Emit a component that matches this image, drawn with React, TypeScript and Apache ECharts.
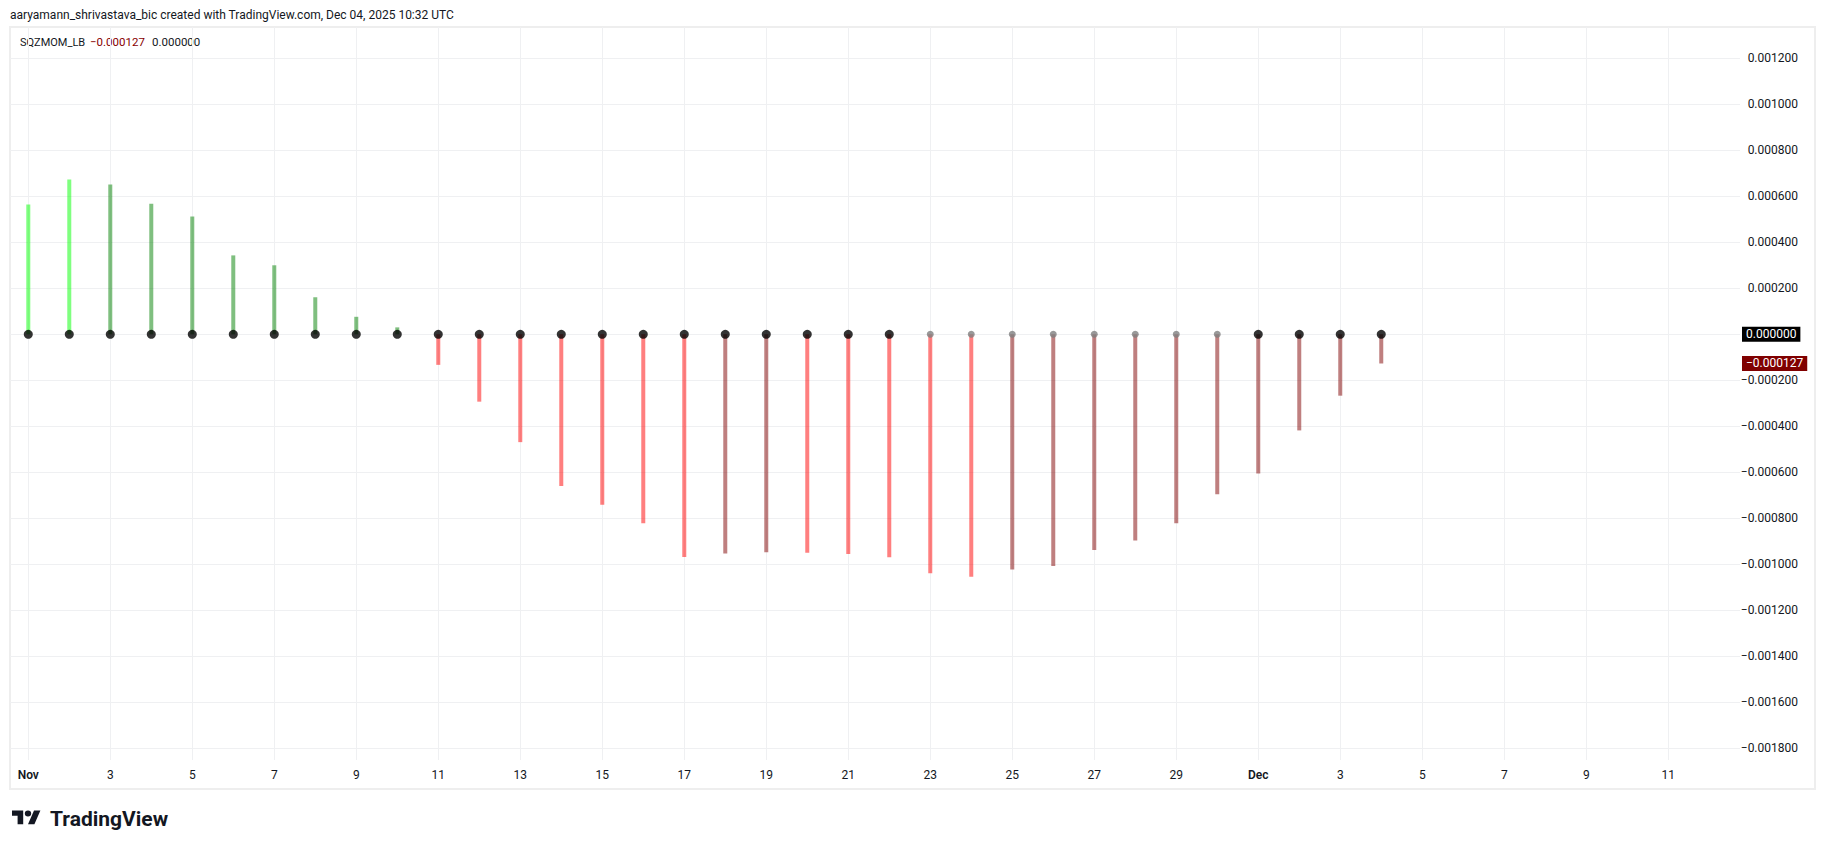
import React, { useEffect, useRef } from "react";
import * as echarts from "echarts";

// Daily SQZMOM_LB values, Nov 1 – Dec 4, 2025
const dates = [
  "Nov 1", "Nov 2", "Nov 3", "Nov 4", "Nov 5", "Nov 6", "Nov 7", "Nov 8", "Nov 9", "Nov 10",
  "Nov 11", "Nov 12", "Nov 13", "Nov 14", "Nov 15", "Nov 16", "Nov 17", "Nov 18", "Nov 19", "Nov 20",
  "Nov 21", "Nov 22", "Nov 23", "Nov 24", "Nov 25", "Nov 26", "Nov 27", "Nov 28", "Nov 29", "Nov 30",
  "Dec 1", "Dec 2", "Dec 3", "Dec 4",
];
const momentum = [
  0.000564, 0.000673, 0.000651, 0.000568, 0.000512, 0.000343, 0.0003, 0.000161, 0.000076, 0.00003,
  -0.000133, -0.000293, -0.000469, -0.00066, -0.000741, -0.000822, -0.000968, -0.000953, -0.000948, -0.00095,
  -0.000955, -0.00097, -0.001039, -0.001054, -0.001023, -0.001008, -0.000938, -0.000897, -0.000822, -0.000696,
  -0.000605, -0.000418, -0.000267, -0.000127,
];
// squeeze state per day: "on" = black dot, "off" = gray dot
const squeeze = [
  "on", "on", "on", "on", "on", "on", "on", "on", "on", "on",
  "on", "on", "on", "on", "on", "on", "on", "on", "on", "on",
  "on", "on", "off", "off", "off", "off", "off", "off", "off", "off",
  "on", "on", "on", "on",
];
// time axis ticks (day index from Nov 1) and their labels
const xTickIndex = [0, 2, 4, 6, 8, 10, 12, 14, 16, 18, 20, 22, 24, 26, 28, 30, 32, 34, 36, 38, 40];
const xTickLabels = ["Nov", "3", "5", "7", "9", "11", "13", "15", "17", "19", "21", "23", "25", "27", "29", "Dec", "3", "5", "7", "9", "11"];
const yTicks = [0.0012, 0.001, 0.0008, 0.0006, 0.0004, 0.0002, 0, -0.0002, -0.0004, -0.0006, -0.0008, -0.001, -0.0012, -0.0014, -0.0016, -0.0018];

const TITLE = "aaryamann_shrivastava_bic created with TradingView.com, Dec 04, 2025 10:32 UTC";
const INDICATOR = "SQZMOM_LB";

const LOGO_D = "M14 22H7V11H0V4h14v18zM28 22h-8l7.5-18h8L28 22zM16 8a4 4 0 1 0 8 0a4 4 0 1 0 -8 0z";

const FONT = "Roboto, 'Liberation Sans', sans-serif";
const TEXT = "#131722";

function fmt(v: number): string {
  const s = Math.abs(v).toFixed(6);
  return v < 0 ? "\u2212" + s : s;
}

function barColor(i: number): string {
  const v = momentum[i];
  const prev = i > 0 ? momentum[i - 1] : -Infinity;
  if (v > 0) return v > prev ? "rgba(0,255,0,0.5)" : "rgba(0,128,0,0.5)";
  return v < prev ? "rgba(255,0,0,0.5)" : "rgba(128,0,0,0.5)";
}

let registered = false;

export default function App() {
  const ref = useRef<HTMLDivElement>(null);
  useEffect(() => {
    if (!ref.current) return;
    if (!registered) {
      echarts.graphic.registerShape("tvlogo", echarts.graphic.extendPath(LOGO_D, {}));
      registered = true;
    }
    const chart = echarts.init(ref.current, null, { renderer: "svg" });
    const last = momentum[momentum.length - 1];
    const lastDot = 0;

    const barData = momentum.map((v, i) => ({ value: [i, v], itemStyle: { color: barColor(i) } }));
    const dotData = squeeze.map((s, i) => ({
      value: [i, 0],
      symbolSize: s === "on" ? 9 : 7,
      itemStyle: { color: s === "on" ? "#000000" : "#808080" },
    }));

    const staticGraphics: any[] = [
      {
        id: "frame",
        type: "rect",
        z: -1,
        shape: { x: 10, y: 27, width: 1805, height: 762 },
        style: { fill: "none", stroke: "#eeeeee", lineWidth: 2 },
        silent: true,
      },
      {
        id: "title",
        type: "text",
        x: 10,
        y: 15,
        style: { text: TITLE, fill: TEXT, font: "12px " + FONT, verticalAlign: "middle" },
      },
      {
        id: "ind",
        type: "text",
        x: 20,
        y: 42,
        style: { text: INDICATOR, fill: TEXT, font: "11px " + FONT, verticalAlign: "middle" },
      },
      {
        id: "indv1",
        type: "text",
        x: 90,
        y: 42,
        style: { text: fmt(last), fill: "#880000", font: "11.5px " + FONT, verticalAlign: "middle" },
      },
      {
        id: "indv2",
        type: "text",
        x: 152,
        y: 42,
        style: { text: fmt(lastDot), fill: TEXT, font: "11.5px " + FONT, verticalAlign: "middle" },
      },
      {
        id: "logo",
        type: "tvlogo",
        x: 12,
        y: 807.5,
        scaleX: 0.8,
        scaleY: 0.76,
        style: { fill: TEXT },
      },
      {
        id: "logotext",
        type: "text",
        x: 50,
        y: 818.5,
        style: { text: "TradingView", fill: TEXT, font: "bold 21px " + FONT, verticalAlign: "middle" },
      },
    ];

    const option: any = {
      animation: false,
      backgroundColor: "#ffffff",
      textStyle: { fontFamily: FONT },
      grid: { left: 10, right: 85, top: 27, bottom: 89, containLabel: false },
      xAxis: {
        type: "value",
        min: -0.446,
        max: 41.75,
        axisLine: { show: false },
        axisTick: { show: false, customValues: xTickIndex },
        splitLine: { show: true, lineStyle: { color: "#eff0f2", width: 1 } },
        axisLabel: {
          customValues: xTickIndex,
          margin: 9,
          fontSize: 12,
          color: TEXT,
          fontFamily: FONT,
          formatter: (v: number) => {
            const k = xTickIndex.indexOf(Math.round(v));
            const t = k >= 0 ? xTickLabels[k] : "";
            return /^[A-Za-z]/.test(t) ? "{b|" + t + "}" : t;
          },
          rich: { b: { fontWeight: 600, fontSize: 12, color: TEXT, fontFamily: FONT } },
        },
      },
      yAxis: {
        type: "value",
        position: "right",
        min: -0.001851,
        max: 0.001336,
        axisLine: { show: false },
        axisTick: { show: false, customValues: yTicks },
        splitLine: { show: true, lineStyle: { color: "#eff0f2", width: 1 } },
        axisLabel: {
          customValues: yTicks,
          align: "right",
          margin: 58,
          fontSize: 12,
          color: TEXT,
          fontFamily: FONT,
          formatter: (v: number) => fmt(v),
        },
      },
      series: [
        { type: "bar", data: barData, barWidth: 4, z: 2 },
        { type: "scatter", data: dotData, symbol: "circle", z: 3 },
      ],
      graphic: staticGraphics,
    };
    chart.setOption(option);

    // price-scale badges for the last values, placed through the y axis scale
    const yZero = chart.convertToPixel({ yAxisIndex: 0 }, lastDot) as number;
    const yLast = chart.convertToPixel({ yAxisIndex: 0 }, last) as number;
    const badge = (id: string, y: number, text: string, bg: string) => ({
      id,
      type: "text",
      z: 100,
      x: 1742,
      y,
      style: {
        text,
        fill: "#ffffff",
        font: "12px " + FONT,
        verticalAlign: "middle",
        backgroundColor: bg,
        padding: [2, 4, 1, 4],
      },
    });
    chart.setOption({
      graphic: [
        ...staticGraphics,
        badge("b0", yZero, fmt(lastDot), "#000000"),
        badge("b1", yLast, fmt(last), "#800000"),
      ],
    });
    return () => chart.dispose();
  }, []);
  return (
    <div
      ref={ref}
      style={{ position: "fixed", left: 0, top: 0, width: 1825, height: 849, background: "#fff" }}
    />
  );
}
